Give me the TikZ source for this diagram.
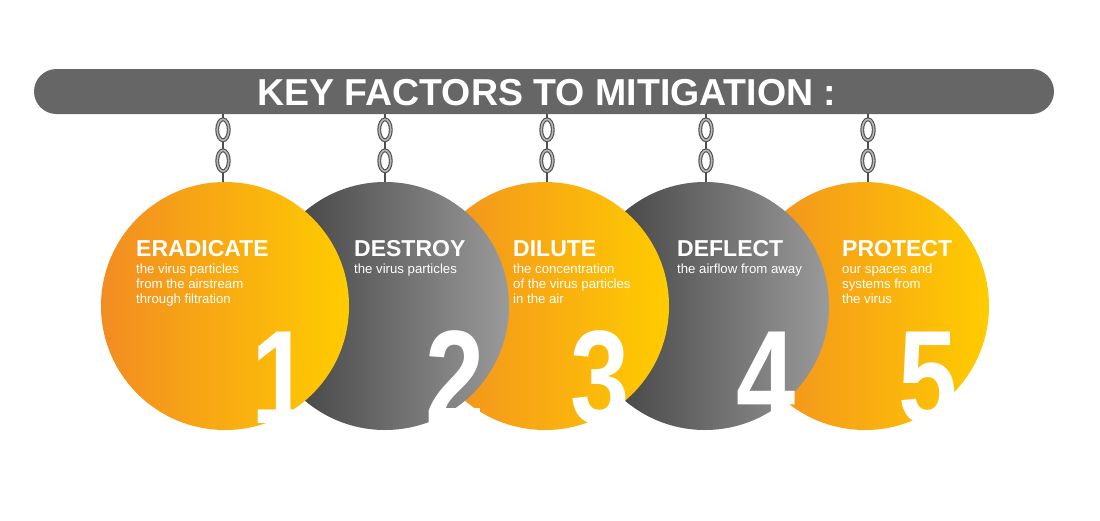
\documentclass[tikz,border=0pt]{standalone}
\usepackage{fontspec}
\usetikzlibrary{calc}
\setmainfont{Liberation Sans}
\definecolor{barg}{HTML}{666666}
\definecolor{orL}{HTML}{F28C22}
\definecolor{orR}{HTML}{FFCC00}
\definecolor{grL}{HTML}{3A3A3A}
\definecolor{grR}{HTML}{9A9A9A}
\definecolor{chainD}{HTML}{4E4E4E}
\definecolor{chainL}{HTML}{B8B8B8}
\begin{document}
\begin{tikzpicture}[x=1pt,y=-1pt,
  head/.style={anchor=base west, inner sep=0pt, text=white, font=\fontsize{23}{23}\selectfont\bfseries},
  body/.style={anchor=base west, inner sep=0pt, text=white, font=\fontsize{13.2}{15}\selectfont},
  num/.style={anchor=base west, inner sep=0pt, text=white, font=\fontsize{133}{133}\selectfont\bfseries},
  titletext/.style={anchor=base west, inner sep=0pt, text=white, font=\fontsize{37.5}{37.5}\selectfont\bfseries},
  ball/.style={circle, inner sep=0pt, minimum size=248pt},
  orball/.style={ball, left color=orL, right color=orR},
  grball/.style={ball, left color=grL, right color=grR},
  rod/.style={draw=chainD, line width=2.2pt},
  linkout/.style={draw=chainD, fill=white, line width=3.8pt},
  linkin/.style={draw=chainL, line width=1.6pt}
]
\useasboundingbox (0,0) rectangle (1100,520);
\fill[white] (0,0) rectangle (1100,520);
% bar
\node[fill=barg, rounded corners=22.5pt, minimum width=1020pt, minimum height=45pt, inner sep=0pt] (bar) at (544,91.5) {};
\node[titletext] (title) at (257,105) {KEY FACTORS TO MITIGATION :};
% balls, right to left so that each left ball lies on top
\node[orball] (c5) at (865,306) {};
\node[grball] (c4) at (705,306) {};
\node[orball] (c3) at (545,306) {};
\node[grball] (c2) at (385,306) {};
\node[orball] (c1) at (225,306) {};
% chains
\foreach \i/\dx in {1/-2,2/0,3/2,4/1,5/3}{
  \coordinate (top\i) at ($(bar.south -| c\i.north)+(\dx,0)$);
  \coordinate (bot\i) at ($(c\i.north)+(\dx,0)$);
  \draw[rod] (top\i) -- (bot\i);
  \path[linkout] ($(bot\i)+(0,-52)$) ellipse [x radius=5.8pt, y radius=10.5pt];
  \path[linkout] ($(bot\i)+(0,-21)$) ellipse [x radius=5.8pt, y radius=10.5pt];
  \draw[linkin] ($(bot\i)+(0,-52)$) ellipse [x radius=5.8pt, y radius=10.5pt];
  \draw[linkin] ($(bot\i)+(0,-21)$) ellipse [x radius=5.8pt, y radius=10.5pt];
}
% texts
\node[head] (h1) at (136,256) {ERADICATE};
\node[body] (b1a) at (136,273) {the virus particles};
\node[body] (b1b) at (136,288) {from the airstream};
\node[body] (b1c) at (136,303) {through filtration};
\node[head] (h2) at (354,256) {DESTROY};
\node[body] (b2a) at (354,273) {the virus particles};
\node[head] (h3) at (513,256) {DILUTE};
\node[body] (b3a) at (513,273) {the concentration};
\node[body] (b3b) at (513,288) {of the virus particles};
\node[body] (b3c) at (513,303) {in the air};
\node[head] (h4) at (677,256) {DEFLECT};
\node[body] (b4a) at (677,273) {the airflow from away};
\node[head] (h5) at (842,256) {PROTECT};
\node[body] (b5a) at (842,273) {our spaces and};
\node[body] (b5b) at (842,288) {systems from};
\node[body] (b5c) at (842,303) {the virus};
% numbers
\node[num] (n1) at (251,423) {\scalebox{0.8}[1]{1}};
\node[num] (n2) at (425,423) {\scalebox{0.8}[1]{2}};
\node[num] (n3) at (570,423) {\scalebox{0.8}[1]{3}};
\node[num] (n4) at (736,423) {\scalebox{0.8}[1]{4}};
\node[num] (n5) at (898,423) {\scalebox{0.8}[1]{5}};
\end{tikzpicture}
\end{document}
